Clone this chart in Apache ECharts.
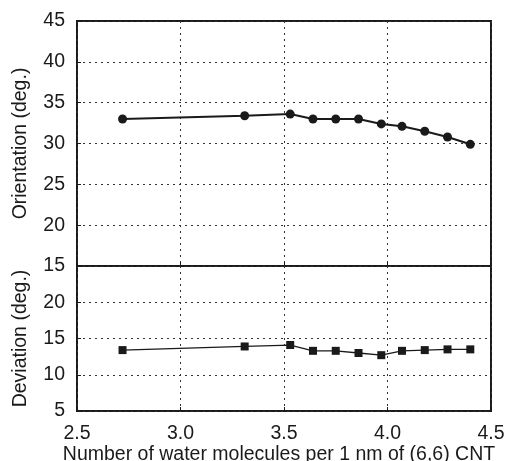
<!DOCTYPE html>
<html><head><meta charset="utf-8">
<script src="https://cdn.jsdelivr.net/npm/echarts@6/dist/echarts.min.js"></script>
<style>html,body{margin:0;padding:0;background:#fff}#c{width:509px;height:461px}</style>
</head><body><div id="c"></div>
<script>
const waterPerNm = [2.72, 3.31, 3.53, 3.64, 3.75, 3.86, 3.97, 4.07, 4.18, 4.29, 4.40];
const orientation = [33.0, 33.4, 33.6, 33.0, 33.0, 33.0, 32.4, 32.1, 31.5, 30.8, 29.9];
const deviation = [13.4, 13.9, 14.1, 13.3, 13.3, 13.0, 12.7, 13.3, 13.4, 13.5, 13.5];
const xTitle = 'Number of water molecules per 1 nm of (6,6) CNT';
const yTopTitle = 'Orientation (deg.)';
const yBottomTitle = 'Deviation (deg.)';

const FONT = 'Liberation Sans, Arial, Helvetica, sans-serif';
const INK = '#1a1a1a';
const FS = 19.5;
const gridLine = {show: true, lineStyle: {color: '#333', width: 1, type: [2, 4]}};
const label = {color: INK, fontFamily: FONT, fontSize: FS};
const tick = {show: true, inside: true, length: 4, lineStyle: {color: INK, width: 1}};

const chart = echarts.init(document.getElementById('c'), null, {renderer: 'canvas'});
chart.setOption({
  animation: false,
  grid: [
    {left: 77, top: 21, width: 414, height: 245, show: true, borderColor: INK, borderWidth: 2, backgroundColor: 'transparent', containLabel: false, outerBoundsMode: 'none'},
    {left: 77, top: 266, width: 414, height: 145, show: true, borderColor: INK, borderWidth: 2, backgroundColor: 'transparent', containLabel: false, outerBoundsMode: 'none'}
  ],
  xAxis: [
    {gridIndex: 0, type: 'value', min: 2.5, max: 4.5, interval: 0.5,
     axisLine: {show: false}, axisTick: tick, axisLabel: {show: false}, splitLine: gridLine},
    {gridIndex: 1, type: 'value', min: 2.5, max: 4.5, interval: 0.5,
     axisLine: {show: false}, axisTick: tick, splitLine: gridLine,
     axisLabel: Object.assign({margin: 13, formatter: v => v.toFixed(1)}, label),
     name: xTitle, nameLocation: 'middle', nameGap: 32,
     nameTextStyle: {color: INK, fontFamily: FONT, fontSize: FS, padding: [0, 10, 0, 0]}}
  ],
  yAxis: [
    {gridIndex: 0, type: 'value', min: 15, max: 45, interval: 5,
     axisLine: {show: false}, axisTick: tick, splitLine: gridLine,
     axisLabel: Object.assign({margin: 12}, label),
     name: yTopTitle, nameLocation: 'middle', nameGap: 46,
     nameTextStyle: {color: INK, fontFamily: FONT, fontSize: FS}},
    {gridIndex: 1, type: 'value', min: 5, max: 25, interval: 5,
     axisLine: {show: false}, axisTick: tick, splitLine: gridLine,
     axisLabel: Object.assign({margin: 12, formatter: v => v === 25 ? '' : String(v)}, label),
     name: yBottomTitle, nameLocation: 'middle', nameGap: 46,
     nameTextStyle: {color: INK, fontFamily: FONT, fontSize: FS}}
  ],
  series: [
    {type: 'line', xAxisIndex: 0, yAxisIndex: 0,
     data: waterPerNm.map((x, i) => [x, orientation[i]]),
     symbol: 'circle', symbolSize: 9,
     lineStyle: {color: INK, width: 2}, itemStyle: {color: INK}},
    {type: 'line', xAxisIndex: 1, yAxisIndex: 1,
     data: waterPerNm.map((x, i) => [x, deviation[i]]),
     symbol: 'rect', symbolSize: 8,
     lineStyle: {color: INK, width: 1.3}, itemStyle: {color: INK}}
  ]
});
</script></body></html>
